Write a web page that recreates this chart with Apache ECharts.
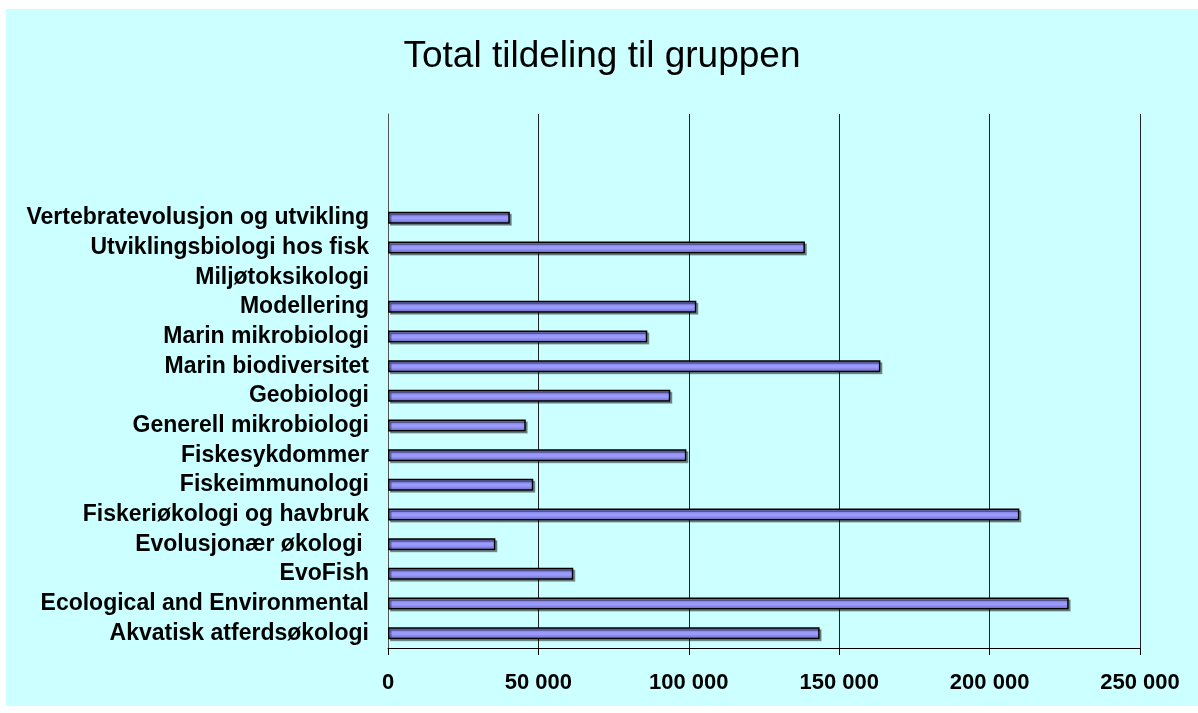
<!DOCTYPE html>
<html>
<head>
<meta charset="utf-8">
<script src="https://cdn.jsdelivr.net/npm/echarts@6/dist/echarts.min.js"></script>
<style>
  html, body { margin: 0; padding: 0; background: #ffffff; }
  #chart { position: absolute; left: 6px; top: 9px; width: 1192px; height: 697px; background: #CCFFFF; }
</style>
</head>
<body>
<div id="chart"></div>
<script>
const categories = [
  'Akvatisk atferdsøkologi',
  'Ecological and Environmental',
  'EvoFish',
  'Evolusjonær økologi ',
  'Fiskeriøkologi og havbruk',
  'Fiskeimmunologi',
  'Fiskesykdommer',
  'Generell mikrobiologi',
  'Geobiologi',
  'Marin biodiversitet',
  'Marin mikrobiologi',
  'Modellering',
  'Miljøtoksikologi',
  'Utviklingsbiologi hos fisk',
  'Vertebratevolusjon og utvikling',
  ' ', '  ', '   '
];
const values = [
  143500, 226300, 61600, 35700, 209900, 48300, 99200, 45800, 93850,
  163700, 86200, 102500, null, 138600, 40500, null, null, null
];
const xMin = 0, xMax = 250000, xStep = 50000;
const titleText = 'Total tildeling til gruppen';

const chart = echarts.init(document.getElementById('chart'), null, { renderer: 'canvas' });
const font = 'Arial, "Liberation Sans", sans-serif';
chart.setOption({
  backgroundColor: '#CCFFFF',
  animation: false,
  title: {
    text: titleText,
    left: 'center',
    top: 24,
    textStyle: { fontFamily: font, fontSize: 37, fontWeight: 'normal', color: '#000' }
  },
  grid: { left: 382, right: 58, top: 105, bottom: 58, containLabel: false },
  xAxis: {
    type: 'value',
    min: xMin, max: xMax, interval: xStep,
    axisLine: { show: true, lineStyle: { color: '#000', width: 1 } },
    axisTick: { show: true, length: 7, lineStyle: { color: '#000' } },
    splitLine: { show: true, lineStyle: { color: '#222', width: 1 } },
    axisLabel: {
      margin: 24,
      fontFamily: font, fontSize: 22, fontWeight: 'bold', color: '#000',
      formatter: v => String(v).replace(/\B(?=(\d{3})+(?!\d))/g, ' ')
    }
  },
  yAxis: {
    type: 'category',
    data: categories,
    axisLine: { show: true, lineStyle: { color: '#555', width: 1 } },
    axisTick: { show: false },
    splitLine: { show: false },
    axisLabel: {
      margin: 19, interval: 0,
      fontFamily: font, fontSize: 23, fontWeight: 'bold', color: '#000'
    }
  },
  series: [{
    type: 'bar',
    data: values,
    barWidth: 12,
    itemStyle: {
      color: new echarts.graphic.LinearGradient(0, 0, 0, 1, [
        { offset: 0, color: '#6262b0' },
        { offset: 0.45, color: '#9a9aff' },
        { offset: 0.6, color: '#9a9aff' },
        { offset: 1, color: '#6262b0' }
      ]),
      borderColor: '#000',
      borderWidth: 1.5,
      shadowColor: 'rgba(0,0,0,0.35)',
      shadowOffsetX: 2,
      shadowOffsetY: 2,
      shadowBlur: 0
    }
  }]
});
</script>
</body>
</html>
